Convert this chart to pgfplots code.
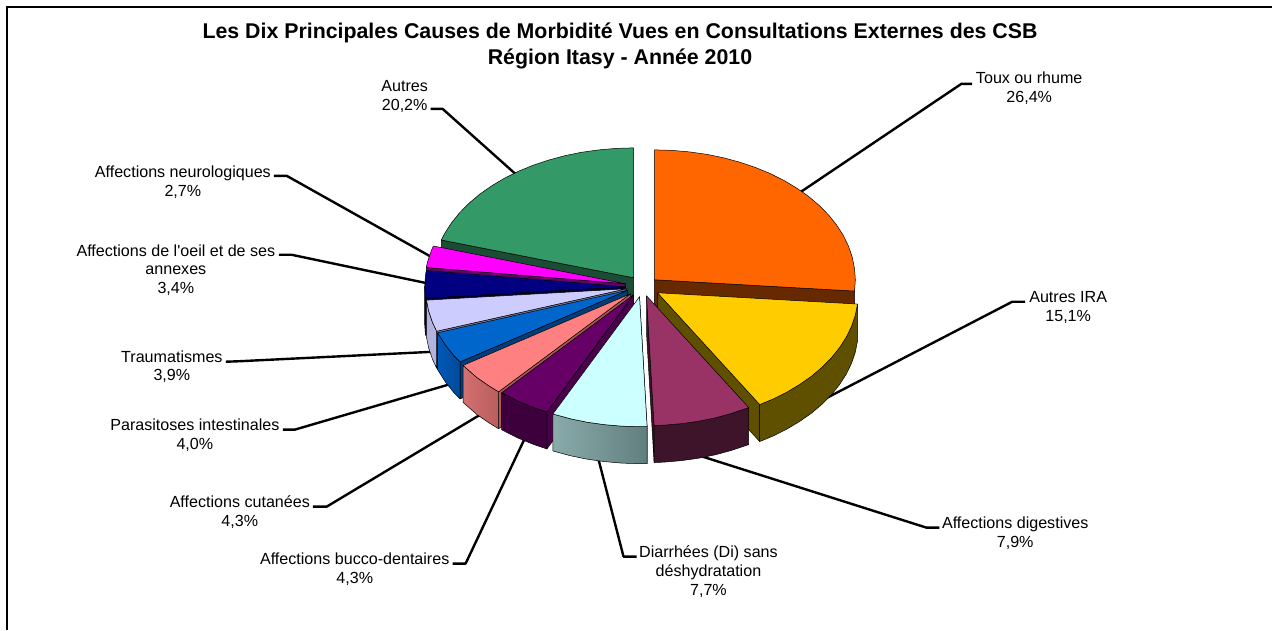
\documentclass[border=0pt]{standalone}
\usepackage{pgfplots}
\pgfplotsset{compat=1.18}
\usepackage{fontspec}
\setmainfont{Liberation Sans}
\newfontfamily\plainf{Liberation Sans}
\definecolor{orangeT}{HTML}{FF6600}\definecolor{orangeC}{HTML}{662900}
\definecolor{yelT}{HTML}{FFCC00}\definecolor{yelW}{HTML}{5F5000}
\definecolor{plumT}{HTML}{993366}\definecolor{plumW}{HTML}{3D1429}
\definecolor{cyanT}{HTML}{CCFFFF}\definecolor{cyanA}{HTML}{8AABAB}\definecolor{cyanB}{HTML}{627F7F}
\definecolor{purT}{HTML}{660066}\definecolor{purW}{HTML}{3D003D}\definecolor{purC}{HTML}{4A004A}
\definecolor{salT}{HTML}{FF8080}\definecolor{salA}{HTML}{D47070}\definecolor{salB}{HTML}{B85E5E}\definecolor{salC}{HTML}{A65A50}
\definecolor{bluT}{HTML}{0066CC}\definecolor{bluA}{HTML}{0059B8}\definecolor{bluB}{HTML}{004A99}\definecolor{bluC}{HTML}{003D7A}
\definecolor{lavT}{HTML}{CCCCFF}\definecolor{lavW}{HTML}{B3B3E0}\definecolor{lavC}{HTML}{7A7A99}
\definecolor{navT}{HTML}{000080}\definecolor{navC}{HTML}{00002E}
\definecolor{magT}{HTML}{FF00FF}\definecolor{magC}{HTML}{660066}
\definecolor{greT}{HTML}{339966}\definecolor{greC}{HTML}{1A4D33}
\tikzset{
  lead/.style={black,line width=2.4pt,line join=round},
  ed/.style={draw=black,line width=0.5pt,line join=round},
  lbl/.style={font=\fontsize{16.1}{18.6}\selectfont,align=center,text=black,inner sep=0pt},
}
\begin{document}
\begin{tikzpicture}
\begin{axis}[
  width=1273pt,height=630pt,scale only axis,
  xmin=0,xmax=1273,ymin=0,ymax=630,y dir=reverse,
  hide axis,clip=false,
]
% page extent
\addplot[draw=none] coordinates {(0,0)(1273,630)};
% frame
\addplot[black,line width=2pt,line join=miter] coordinates {(7.5,630)(7.5,7.5)(1273,7.5)};
% leader lines
\addplot[lead] coordinates {(973,84)(962,84)(800,193)};
\addplot[lead] coordinates {(1026,302)(1013,302)(822,401)};
\addplot[lead] coordinates {(940,528)(927,528)(700,456)};
\addplot[lead] coordinates {(637,557)(624,557)(598,456)};
\addplot[lead] coordinates {(453,564)(466,564)(526,437)};
\addplot[lead] coordinates {(313,507)(327,507)(484,413)};
\addplot[lead] coordinates {(283,430)(295,430)(452,384)};
\addplot[lead] coordinates {(226,362)(240,361.5)(434,352)};
\addplot[lead] coordinates {(279,255)(292,255)(430,284)};
\addplot[lead] coordinates {(274,176)(287,176)(435,259)};
\addplot[lead] coordinates {(431,109)(443,109)(518,176)};
% Autres (green)
\addplot[ed,fill=greC] coordinates {(634,278)(441.7,240.2)(441.7,277.2)(634,315)} -- cycle;
\addplot[ed,fill=greT] coordinates {(634,278)(441.7,240.2)(445.1,233.5)(451.8,223.1)(459.9,213)(469.4,203.4)(480,194.4)(491.9,186.1)(504.8,178.4)(518.7,171.5)(533.5,165.4)(549.1,160.2)(565.3,155.8)(582,152.4)(599.1,150)(616.5,148.5)(634,148)} -- cycle;
% Toux ou rhume (orange)
\addplot[ed,fill=orangeC] coordinates {(655,280)(855.2,291.3)(855.2,328.3)(655,317)} -- cycle;
\addplot[ed,fill=orangeT] coordinates {(655,280)(655,150)(672.5,150.5)(689.9,152)(707,154.4)(723.7,157.8)(739.9,162.2)(755.5,167.4)(770.3,173.5)(784.2,180.4)(797.1,188.1)(809,196.4)(819.6,205.4)(829.1,215)(837.2,225.1)(843.9,235.5)(849.2,246.4)(852.9,257.4)(855.2,268.7)(856,280)(855.2,291.3)} -- cycle;
% Neuro (magenta)
\addplot[ed,fill=magC] coordinates {(626,284)(426.6,267.7)(426.6,304.7)(626,321)} -- cycle;
\addplot[ed,fill=magT] coordinates {(626,284)(426.6,267.7)(428.1,261.4)(431.8,250.4)(433.7,246.2)} -- cycle;
% Oeil (navy)
\addplot[ed,fill=navC] coordinates {(626,287)(425.8,298.4)(425.8,335.4)(626,324)} -- cycle;
\addplot[ed,fill=navC] coordinates {(425.8,298.4)(425,287)(425,324)(425.8,335.4)} -- cycle;
\addplot[ed,fill=navT] coordinates {(626,287)(425.8,298.4)(425,287)(425.8,275.7)(426.6,270.7)} -- cycle;
% Traumatismes (lavender)
\addplot[ed,fill=lavC] coordinates {(627,289)(437,331.5)(437,368.5)(627,326)} -- cycle;
\addplot[ed,fill=lavW] coordinates {(437,331.5)(432.8,322.6)(429.1,311.6)(426.8,300.4)(426.8,337.4)(429.1,348.6)(432.8,359.6)(437,368.5)} -- cycle;
\addplot[ed,fill=lavT] coordinates {(627,289)(437,331.5)(432.8,322.6)(429.1,311.6)(426.8,300.4)} -- cycle;
% Parasitoses (blue)
\addplot[ed,fill=bluC] coordinates {(628,290.5)(460.4,362.2)(460.4,399.2)(628,327.5)} -- cycle;
\addplot[ed,left color=bluA,right color=bluB] coordinates {(460.4,362.2)(453.9,355.5)(445.8,345.4)(438,333)(438,370)(445.8,382.4)(453.9,392.5)(460.4,399.2)} -- cycle;
\addplot[ed,fill=bluT] coordinates {(628,290.5)(460.4,362.2)(453.9,355.5)(445.8,345.4)(438,333)} -- cycle;
% Cutanees (salmon)
\addplot[ed,fill=salC] coordinates {(631,294)(499,392.1)(499,429.1)(631,331)} -- cycle;
\addplot[ed,left color=salA,right color=salB] coordinates {(499,392.1)(488.9,385.9)(477,377.6)(463.4,365.7)(463.4,402.7)(477,414.6)(488.9,422.9)(499,429.1)} -- cycle;
\addplot[ed,fill=salT] coordinates {(631,294)(499,392.1)(488.9,385.9)(477,377.6)(463.4,365.7)} -- cycle;
% Bucco (purple)
\addplot[ed,fill=purC] coordinates {(634,295)(547.3,412.3)(547.3,449.3)(634,332)} -- cycle;
\addplot[ed,fill=purW] coordinates {(547.3,412.3)(533.5,407.6)(518.7,401.5)(502,393.1)(502,430.1)(518.7,438.5)(533.5,444.6)(547.3,449.3)} -- cycle;
\addplot[ed,fill=purT] coordinates {(634,295)(547.3,412.3)(533.5,407.6)(518.7,401.5)(502,393.1)} -- cycle;
% Autres IRA (yellow)
\addplot[ed,fill=yelW] coordinates {(658,293)(760.3,404.9)(760.3,441.9)(658,330)} -- cycle;
\addplot[ed,fill=yelW] coordinates {(858.2,304.3)(855.9,315.6)(852.2,326.6)(846.9,337.5)(840.2,347.9)(832.1,358)(822.6,367.6)(812,376.6)(800.1,384.9)(787.2,392.6)(773.3,399.5)(760.3,404.9)(760.3,441.9)(773.3,436.5)(787.2,429.6)(800.1,421.9)(812,413.6)(822.6,404.6)(832.1,395)(840.2,384.9)(846.9,374.5)(852.2,363.6)(855.9,352.6)(858.2,341.3)} -- cycle;
\addplot[ed,fill=yelT] coordinates {(658,293)(858.2,304.3)(855.9,315.6)(852.2,326.6)(846.9,337.5)(840.2,347.9)(832.1,358)(822.6,367.6)(812,376.6)(800.1,384.9)(787.2,392.6)(773.3,399.5)(760.3,404.9)} -- cycle;
% Digestives (plum)
\addplot[ed,fill=plumW] coordinates {(647,296)(654.6,425.9)(654.6,462.9)(647,333)} -- cycle;
\addplot[ed,fill=plumW] coordinates {(749.3,407.9)(747.5,408.6)(731.9,413.8)(715.7,418.2)(699,421.6)(681.9,424)(664.5,425.5)(654.6,425.9)(654.6,462.9)(664.5,462.5)(681.9,461)(699,458.6)(715.7,455.2)(731.9,450.8)(747.5,445.6)(749.3,444.9)} -- cycle;
\addplot[ed,fill=plumT] coordinates {(647,296)(749.3,407.9)(747.5,408.6)(731.9,413.8)(715.7,418.2)(699,421.6)(681.9,424)(664.5,425.5)(654.6,425.9)} -- cycle;
% Diarrhees (cyan)
\addplot[ed,fill=cyanB] coordinates {(640,297)(647.6,426.9)(647.6,463.9)(640,334)} -- cycle;
\addplot[ed,left color=cyanA,right color=cyanB] coordinates {(647.6,426.9)(640,427)(622.5,426.5)(605.1,425)(588,422.6)(571.3,419.2)(553.3,414.3)(553.3,451.3)(571.3,456.2)(588,459.6)(605.1,462)(622.5,463.5)(640,464)(647.6,463.9)} -- cycle;
\addplot[ed,fill=cyanT] coordinates {(640,297)(647.6,426.9)(640,427)(622.5,426.5)(605.1,425)(588,422.6)(571.3,419.2)(553.3,414.3)} -- cycle;
% title
\node[font=\fontsize{21.35}{26}\selectfont\bfseries,align=center,inner sep=0pt] at (axis cs:620.5,46) {Les Dix Principales Causes de Morbidité Vues en Consultations Externes des CSB\\Région Itasy - Année 2010};
% labels
\node[lbl] at (axis cs:1030,88.5) {Toux ou rhume\\26,4\%};
\node[lbl] at (axis cs:1069,308) {Autres IRA\\15,1\%};
\node[lbl] at (axis cs:1016,533.5) {Affections digestives\\7,9\%};
\node[lbl] at (axis cs:709,572) {Diarrhées (Di) sans\\déshydratation\\7,7\%};
\node[lbl] at (axis cs:355,569.5) {Affections bucco-dentaires\\4,3\%};
\node[lbl] at (axis cs:240,512.5) {Affections cutanées\\4,3\%};
\node[lbl] at (axis cs:195,435.5) {Parasitoses intestinales\\4,0\%};
\node[lbl] at (axis cs:172,367) {Traumatismes\\3,9\%};
\node[lbl] at (axis cs:176,270) {Affections de {\plainf l'}oeil et de ses\\annexes\\3,4\%};
\node[lbl] at (axis cs:183,182.5) {Affections neurologiques\\2,7\%};
\node[lbl] at (axis cs:405,96.5) {Autres\\20,2\%};
\end{axis}
\end{tikzpicture}
\end{document}
